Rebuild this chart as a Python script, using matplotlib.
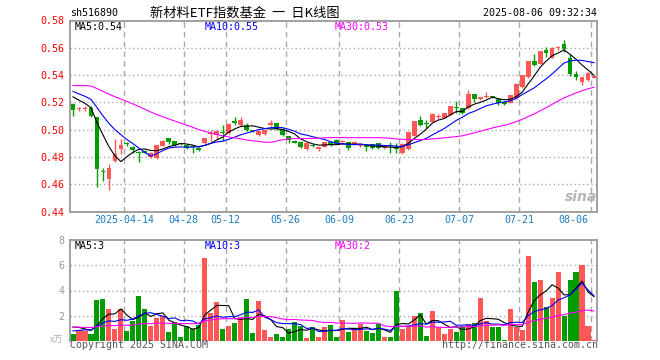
import numpy as np
import pandas as pd
import matplotlib
matplotlib.use('Agg')
import matplotlib.pyplot as plt

plt.rcParams['font.family'] = ['DejaVu Sans Mono', 'Noto Sans CJK SC']

# sh516890 daily bars, 2025-03-31 .. 2025-08-06 (88 sessions)
opens = [0.5185, 0.5150, 0.5152, 0.5158, 0.5090, 0.4698, 0.4636, 0.4770, 0.4856, 0.4900,
         0.4876, 0.4836, 0.4846, 0.4802, 0.4795, 0.4880, 0.4936, 0.4914, 0.4900, 0.4890,
         0.4878, 0.4868, 0.4900, 0.4968, 0.4958, 0.4982, 0.4973, 0.5063, 0.5031, 0.5031,
         0.4995, 0.4958, 0.4966, 0.5031, 0.5046, 0.5007, 0.4951, 0.4919, 0.4909, 0.4856,
         0.4885, 0.4861, 0.4873, 0.4912, 0.4922, 0.4908, 0.4909, 0.4898, 0.4878, 0.4887,
         0.4892, 0.4900, 0.4868, 0.4880, 0.4858, 0.4829, 0.4856, 0.4953, 0.5070, 0.5041,
         0.5059, 0.5093, 0.5088, 0.5105, 0.5165, 0.5156, 0.5156, 0.5258, 0.5222, 0.5236,
         0.5240, 0.5227, 0.5205, 0.5198, 0.5229, 0.5312, 0.5385, 0.5502, 0.5483, 0.5583,
         0.5527, 0.5598, 0.5629, 0.5527, 0.5405, 0.5349, 0.5363, 0.5381]
highs = [0.5192, 0.5163, 0.5170, 0.5170, 0.5095, 0.4722, 0.4751, 0.4929, 0.4929, 0.4907,
         0.4880, 0.4842, 0.4850, 0.4836, 0.4888, 0.4925, 0.4938, 0.4916, 0.4905, 0.4895,
         0.4885, 0.4873, 0.4940, 0.4995, 0.5000, 0.5031, 0.5050, 0.5090, 0.5090, 0.5048,
         0.5000, 0.4995, 0.5000, 0.5070, 0.5050, 0.5010, 0.4955, 0.4922, 0.4912, 0.4910,
         0.4895, 0.4875, 0.4912, 0.4920, 0.4935, 0.4925, 0.4912, 0.4915, 0.4892, 0.4890,
         0.4895, 0.4903, 0.4882, 0.4907, 0.4899, 0.4900, 0.4985, 0.5066, 0.5097, 0.5068,
         0.5120, 0.5112, 0.5122, 0.5175, 0.5209, 0.5160, 0.5288, 0.5262, 0.5242, 0.5278,
         0.5248, 0.5232, 0.5210, 0.5256, 0.5340, 0.5403, 0.5505, 0.5556, 0.5578, 0.5607,
         0.5603, 0.5610, 0.5656, 0.5551, 0.5427, 0.5388, 0.5420, 0.5395]
lows = [0.5100, 0.5134, 0.5139, 0.5095, 0.4583, 0.4624, 0.4558, 0.4765, 0.4819, 0.4880,
        0.4828, 0.4763, 0.4826, 0.4795, 0.4788, 0.4878, 0.4898, 0.4880, 0.4885, 0.4855,
        0.4832, 0.4846, 0.4895, 0.4915, 0.4935, 0.4917, 0.4970, 0.5031, 0.5028, 0.4990,
        0.4985, 0.4955, 0.4960, 0.5028, 0.5000, 0.4955, 0.4905, 0.4900, 0.4865, 0.4850,
        0.4870, 0.4841, 0.4870, 0.4880, 0.4895, 0.4895, 0.4848, 0.4885, 0.4875, 0.4843,
        0.4860, 0.4860, 0.4855, 0.4829, 0.4831, 0.4822, 0.4853, 0.4950, 0.5030, 0.5014,
        0.5055, 0.5075, 0.5085, 0.5102, 0.5124, 0.5118, 0.5150, 0.5202, 0.5218, 0.5230,
        0.5230, 0.5183, 0.5180, 0.5195, 0.5225, 0.5308, 0.5380, 0.5465, 0.5480, 0.5534,
        0.5524, 0.5583, 0.5570, 0.5393, 0.5366, 0.5327, 0.5360, 0.5378]
closes = [0.5143, 0.5155, 0.5156, 0.5097, 0.4712, 0.4690, 0.4722, 0.4819, 0.4885, 0.4895,
          0.4848, 0.4830, 0.4832, 0.4832, 0.4885, 0.4914, 0.4912, 0.4885, 0.4897, 0.4865,
          0.4873, 0.4851, 0.4936, 0.4975, 0.4990, 0.4975, 0.5039, 0.5046, 0.5068, 0.4997,
          0.4990, 0.4990, 0.4997, 0.5051, 0.5007, 0.4958, 0.4922, 0.4905, 0.4870, 0.4905,
          0.4880, 0.4873, 0.4909, 0.4887, 0.4898, 0.4912, 0.4868, 0.4902, 0.4890, 0.4873,
          0.4863, 0.4865, 0.4880, 0.4878, 0.4856, 0.4898, 0.4982, 0.5063, 0.5037, 0.5039,
          0.5117, 0.5095, 0.5119, 0.5171, 0.5160, 0.5122, 0.5258, 0.5222, 0.5239, 0.5239,
          0.5236, 0.5198, 0.5185, 0.5251, 0.5337, 0.5400, 0.5502, 0.5473, 0.5575, 0.5559,
          0.5600, 0.5600, 0.5588, 0.5410, 0.5385, 0.5385, 0.5417, 0.5392]
# volume, x万
volumes = [0.59, 0.88, 0.80, 0.59, 3.28, 3.36, 2.56, 0.96, 2.56, 0.80,
           1.60, 3.60, 2.56, 1.17, 1.84, 1.97, 0.72, 1.47, 0.32, 1.20,
           0.99, 1.28, 6.56, 2.18, 3.07, 0.99, 1.20, 1.44, 1.87, 3.36,
           0.67, 3.20, 0.91, 0.35, 0.56, 0.32, 0.99, 1.47, 1.20, 0.27,
           1.12, 0.35, 1.07, 1.30, 0.32, 1.63, 0.72, 1.01, 1.31, 0.80,
           0.67, 1.31, 0.32, 0.32, 3.95, 0.99, 1.17, 1.95, 2.24, 0.40,
           2.35, 1.12, 0.56, 0.93, 0.72, 1.20, 1.33, 1.44, 3.39, 1.60,
           1.07, 1.12, 0.11, 2.50, 1.12, 0.91, 6.75, 4.67, 4.80, 2.67,
           3.39, 5.44, 2.00, 4.80, 5.44, 6.00, 1.20, 0.11]

# the 29 sessions before the first bar, only used to seed the moving averages
pre_closes = [0.515, 0.516, 0.520, 0.525, 0.530, 0.535, 0.538, 0.540, 0.542, 0.541,
              0.540, 0.542, 0.545, 0.543, 0.540, 0.538, 0.536, 0.535, 0.534, 0.533,
              0.534, 0.533, 0.532, 0.531, 0.530, 0.528, 0.527, 0.526, 0.525]
pre_volumes = [1.0, 1.5, 0.8, 1.2, 2.0, 1.4, 0.9, 1.1, 1.6, 1.3,
               1.0, 1.2, 1.5, 0.9, 1.4, 1.7, 1.1, 1.0, 1.3, 1.1,
               0.5, 0.4, 0.6, 0.5, 0.5, 1.0, 1.4, 1.2, 1.31]

tick_pos = [9, 19, 26, 36, 45, 55, 65, 75, 87]
tick_labels = ['2025-04-14', '04-28', '05-12', '05-26', '06-09', '06-23', '07-07', '07-21', '08-06']
price_ticks = [0.44, 0.46, 0.48, 0.50, 0.52, 0.54, 0.56, 0.58]
vol_ticks = [2, 4, 6, 8]

RED = '#FF5656'
GREEN = '#009C00'
GRID = '#A8A8A8'
W, H = 660, 360


def px(x, y):
    return x / W, 1 - y / H


def ma(pre, vals, k):
    s = pd.Series(list(pre) + list(vals)).rolling(k).mean().values
    return s[len(pre):]


o = np.array(opens)
c = np.array(closes)
hi = np.array(highs)
lo = np.array(lows)
v = np.array(volumes)
n = len(c)
x = np.arange(n)
cols = np.where(c >= o, RED, GREEN)

fig = plt.figure(figsize=(6.6, 3.6), dpi=100)
ax = fig.add_axes([70 / W, 1 - 211.5 / H, 527 / W, 191 / H])
axv = fig.add_axes([70 / W, 1 - 341 / H, 527 / W, 101 / H])

# candles
ax.vlines(x, lo, hi, colors=cols, lw=1)
ax.bar(x, np.maximum(np.abs(c - o), 0.0008), bottom=np.minimum(o, c), width=0.8,
       color=cols, lw=0)
ax.plot(x, ma(pre_closes, c, 5), color='black', lw=0.8)
ax.plot(x, ma(pre_closes, c, 10), color='#0000FF', lw=0.8)
ax.plot(x, ma(pre_closes, c, 30), color='#FF00FF', lw=0.8)

# volume
axv.bar(x, v, width=0.85, color=cols, lw=0)
axv.plot(x, ma(pre_volumes, v, 5), color='black', lw=0.8)
axv.plot(x, ma(pre_volumes, v, 10), color='#0000FF', lw=0.8)
axv.plot(x, ma(pre_volumes, v, 30), color='#FF00FF', lw=0.8)

for a in (ax, axv):
    a.set_xlim(-0.5, n - 0.5)
    a.set_xticks([])
    for p in tick_pos:
        a.axvline(p - 0.5, color=GRID, lw=1, ls=(0, (4, 3)), zorder=0)
    for s in a.spines.values():
        s.set_color('#999999')
        s.set_linewidth(1.3)

ax.set_ylim(0.44, 0.58)
ax.set_yticks(price_ticks)
ax.set_yticklabels(['%.2f' % t for t in price_ticks])
ax.tick_params(axis='y', length=0, pad=4, colors='#FF0000', labelsize=7.2)
for t in price_ticks[1:-1]:
    ax.axhline(t, color=GRID, lw=1, ls=(0, (1, 2)), zorder=0)

axv.set_ylim(0, 8)
axv.set_yticks(vol_ticks)
axv.set_yticklabels([str(t) for t in vol_ticks])
axv.tick_params(axis='y', length=0, pad=4, colors='#999999', labelsize=7.2)
axv.spines['bottom'].set_visible(False)
for t in vol_ticks[:-1]:
    axv.axhline(t, color=GRID, lw=1, ls=(0, (1, 2)), zorder=0)

# date labels under the price panel
for p, lab in zip(tick_pos, tick_labels):
    ha = 'center'
    xp = p - 0.5
    if p == tick_pos[-1]:
        ha, xp = 'right', p - 1.0
    ax.text(xp, -0.045, lab, transform=ax.get_xaxis_transform(), ha=ha, va='center',
            color='#1C7CC4', fontsize=7.2)

# MA captions
fs = 7.2
ax_ma = [ma(pre_closes, c, k)[-1] for k in (5, 10, 30)]
vol_ma = [ma(pre_volumes, v, k)[-1] for k in (5, 10, 30)]
for (xx, lab, col), pv, vv in zip([(75, 'MA5', 'black'), (205, 'MA10', '#0000FF'), (335, 'MA30', '#FF00FF')],
                                  ax_ma, vol_ma):
    fig.text(*px(xx, 26.5), '%s:%.2f' % (lab, pv), color=col, fontsize=fs, va='center')
    fig.text(*px(xx, 246), '%s:%d' % (lab, int(vv)), color=col, fontsize=fs, va='center')

# header / footer
fig.text(*px(70, 13), 'sh516890', fontsize=fs, va='center')
fig.text(*px(150, 13), '新材料ETF指数基金  一  日K线图', fontsize=9.5, va='center',
         family=['Noto Sans CJK SC', 'DejaVu Sans'])
fig.text(*px(597, 13), '2025-08-06 09:32:34', fontsize=fs, va='center', ha='right')
fig.text(*px(70, 345.5), 'Copyright 2025 SINA.COM', fontsize=fs, va='center', color='#555555')
fig.text(*px(598, 345.5), 'http://finance.sina.com.cn', fontsize=fs, va='center', ha='right',
         color='#555555')
fig.text(*px(63, 340), 'x万', fontsize=6.5, va='center', ha='right', color='#AAAAAA',
         family=['Noto Sans CJK SC', 'DejaVu Sans'])
fig.text(*px(581, 197), 'sina', fontsize=10, va='center', ha='center', color='#B4B4B4',
         style='italic', weight='bold', family='DejaVu Sans')

fig.savefig('out.png', dpi=100)
